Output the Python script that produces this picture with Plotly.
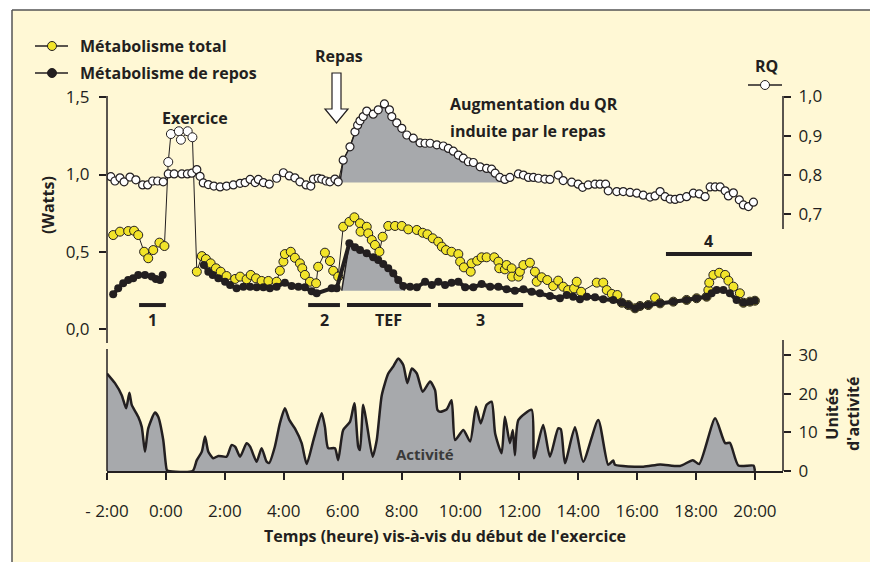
import plotly.graph_objects as go

# ---------------- data ----------------
rq_time = [-1.87, -1.73, -1.56, -1.42, -1.22, -1.02, -0.79, -0.62, -0.45, -0.28, -0.09,
           0.08, 0.28, 0.54, 0.73, 0.88, 1.05, 1.16, 1.27, 1.44, 1.63,
           1.84, 2.06, 2.29, 2.52, 2.69, 2.86, 3.03, 3.14, 3.31, 3.51,
           3.76, 3.99, 4.19, 4.38, 4.55, 4.76, 4.92, 5.01, 5.17, 5.29,
           5.44, 5.57, 5.74, 5.85,
           6.02, 6.25, 6.42, 6.51, 6.59, 6.70, 6.82, 7.04, 7.21, 7.42,
           7.59, 7.67, 7.84, 8.01, 8.18, 8.40, 8.63, 8.80, 8.97, 9.20,
           9.42, 9.59, 9.76, 9.93, 10.10, 10.27, 10.44, 10.67, 10.89, 11.06,
           11.18, 11.34, 11.51, 11.68, 11.97, 12.14, 12.31, 12.48, 12.65, 12.87,
           13.04, 13.32, 13.49, 13.78, 14.00, 14.15, 14.34, 14.57, 14.74, 14.93,
           15.02, 15.31, 15.53, 15.76, 15.99, 16.21, 16.44, 16.61, 16.78, 16.95,
           17.12, 17.29, 17.46, 17.68, 17.91, 18.11, 18.31, 18.48, 18.65, 18.82,
           18.99, 19.10, 19.27, 19.47, 19.61, 19.78, 19.95]
rq_value = [0.796, 0.785, 0.793, 0.783, 0.795, 0.788, 0.775, 0.775, 0.785, 0.785, 0.783,
            0.803, 0.803, 0.803, 0.803, 0.805, 0.814, 0.797, 0.780, 0.776, 0.772,
            0.770, 0.772, 0.775, 0.779, 0.781, 0.789, 0.781, 0.789, 0.781, 0.777,
            0.792, 0.806, 0.798, 0.793, 0.783, 0.775, 0.772, 0.790, 0.792, 0.790,
            0.785, 0.783, 0.790, 0.783,
            0.838, 0.872, 0.910, 0.927, 0.938, 0.949, 0.963, 0.955, 0.966, 0.981,
            0.966, 0.949, 0.933, 0.919, 0.902, 0.894, 0.882, 0.881, 0.881, 0.877,
            0.874, 0.868, 0.861, 0.851, 0.843, 0.834, 0.832, 0.821, 0.817, 0.815,
            0.805, 0.794, 0.789, 0.794, 0.803, 0.800, 0.794, 0.794, 0.792, 0.790,
            0.789, 0.800, 0.786, 0.782, 0.777, 0.769, 0.775, 0.777, 0.777, 0.777,
            0.760, 0.758, 0.758, 0.756, 0.754, 0.749, 0.744, 0.747, 0.758, 0.745,
            0.739, 0.738, 0.741, 0.745, 0.754, 0.752, 0.745, 0.770, 0.770, 0.770,
            0.760, 0.747, 0.755, 0.737, 0.724, 0.720, 0.731]

total_time = [-1.79, -1.56, -1.28, -1.08, -0.94, -0.74, -0.60, -0.43, -0.22, -0.05,
              0.08, 0.17, 0.44, 0.51, 0.74, 0.90,
              1.05, 1.22, 1.36, 1.52, 1.70, 1.86, 2.06, 2.35, 2.52, 2.74,
              2.88, 3.06, 3.25, 3.48, 3.76, 3.87, 3.99, 4.04, 4.24, 4.38,
              4.55, 4.63, 4.72, 4.89, 5.10, 5.17, 5.40, 5.57, 5.68, 5.85,
              6.02, 6.23, 6.40, 6.59, 6.61, 6.82, 6.87, 6.99, 7.10, 7.25,
              7.36, 7.55, 7.78, 8.01, 8.23, 8.52, 8.72, 8.88, 9.06, 9.25,
              9.37, 9.51, 9.70, 9.93, 9.99, 10.12, 10.35, 10.38, 10.57, 10.72,
              10.89, 11.15, 11.29, 11.32, 11.51, 11.57, 11.74, 11.75, 11.97, 12.02,
              12.14, 12.36, 12.53, 12.59, 12.76, 12.95, 13.15, 13.32, 13.49, 13.66,
              13.86, 13.95, 14.10, 14.63, 14.85, 14.97, 15.14, 15.33, 15.48, 15.70,
              15.93, 16.10, 16.38, 16.61, 16.78, 17.23, 17.68, 18.02, 18.36, 18.42,
              18.45, 18.59, 18.79, 18.99, 19.10, 19.27, 19.49, 19.61, 19.83, 20.00]
total_watts = [0.608, 0.630, 0.634, 0.636, 0.608, 0.500, 0.458, 0.511, 0.559, 0.537,
               1.081, 1.262, 1.280, 1.225, 1.280, 1.241,
               0.371, 0.472, 0.453, 0.425, 0.393, 0.371, 0.343, 0.324, 0.339, 0.322,
               0.350, 0.328, 0.311, 0.311, 0.306, 0.377, 0.436, 0.485, 0.500, 0.461,
               0.425, 0.393, 0.350, 0.306, 0.296, 0.403, 0.494, 0.440, 0.377, 0.339,
               0.662, 0.694, 0.723, 0.684, 0.630, 0.662, 0.619, 0.576, 0.544, 0.500,
               0.597, 0.667, 0.667, 0.667, 0.645, 0.641, 0.623, 0.613, 0.587, 0.565,
               0.533, 0.511, 0.500, 0.485, 0.436, 0.399, 0.371, 0.425, 0.442, 0.464,
               0.464, 0.464, 0.436, 0.393, 0.386, 0.414, 0.393, 0.339, 0.339, 0.371,
               0.414, 0.429, 0.371, 0.306, 0.335, 0.317, 0.278, 0.313, 0.274, 0.252,
               0.263, 0.306, 0.241, 0.300, 0.300, 0.252, 0.227, 0.220, 0.170, 0.155,
               0.134, 0.149, 0.155, 0.203, 0.166, 0.177, 0.188, 0.199, 0.209, 0.252,
               0.300, 0.350, 0.364, 0.350, 0.313, 0.274, 0.231, 0.170, 0.177, 0.183]

rest_time = [-1.79, -1.62, -1.45, -1.28, -1.11, -0.94, -0.71, -0.48, -0.34, -0.20, -0.11,
             1.29, 1.44, 1.59, 1.78, 2.01, 2.18, 2.40, 2.63, 2.86, 3.08,
             3.31, 3.53, 3.76, 4.04, 4.27, 4.50, 4.72, 4.95, 5.12, 5.63, 5.80,
             6.23, 6.42, 6.59, 6.82, 7.04, 7.21, 7.38, 7.55, 7.72, 7.89,
             8.06, 8.29, 8.52, 8.80, 9.03, 9.25, 9.48, 9.70, 9.93, 10.16,
             10.44, 10.72, 11.01, 11.29, 11.57, 11.85, 12.14, 12.42, 12.70, 13.04,
             13.38, 13.61, 13.83, 14.06, 14.29, 14.57, 14.85, 15.19, 15.48, 15.70,
             15.93, 16.10, 16.38, 16.78, 17.23, 17.68, 18.02, 18.36, 18.53, 18.70,
             18.93, 19.15, 19.38, 19.61, 19.83, 20.00]
rest_watts = [0.225, 0.263, 0.296, 0.317, 0.328, 0.350, 0.350, 0.339, 0.324, 0.317, 0.350,
              0.414, 0.371, 0.350, 0.328, 0.306, 0.285, 0.263, 0.274, 0.274, 0.270,
              0.270, 0.263, 0.274, 0.300, 0.278, 0.274, 0.270, 0.245, 0.231, 0.263, 0.263,
              0.555, 0.529, 0.511, 0.490, 0.464, 0.447, 0.421, 0.393, 0.361, 0.317,
              0.278, 0.274, 0.270, 0.306, 0.285, 0.306, 0.285, 0.300, 0.306, 0.270,
              0.270, 0.291, 0.274, 0.274, 0.257, 0.248, 0.257, 0.241, 0.231, 0.214,
              0.199, 0.220, 0.209, 0.192, 0.209, 0.205, 0.192, 0.188, 0.170, 0.155,
              0.134, 0.149, 0.155, 0.166, 0.177, 0.188, 0.199, 0.209, 0.231, 0.252,
              0.252, 0.231, 0.188, 0.170, 0.177, 0.183]

act_time = [-2.00, -1.73, -1.50, -1.35, -1.24, -1.16, -0.94, -0.82, -0.71, -0.60,
            -0.37, -0.26, -0.09, 0.03, 0.08, 0.91, 1.05, 1.22, 1.33, 1.44,
            1.61, 1.78, 2.06, 2.23, 2.35, 2.52, 2.74, 2.86, 3.08, 3.25,
            3.42, 3.51, 3.70, 3.87, 4.04, 4.19, 4.38, 4.61, 4.78, 5.01,
            5.29, 5.40, 5.51, 5.74, 5.85, 6.02, 6.25, 6.40, 6.53, 6.59,
            6.70, 6.82, 7.02, 7.16, 7.33, 7.55, 7.72, 7.89, 8.06, 8.20,
            8.35, 8.52, 8.72, 8.97, 9.14, 9.22, 9.31, 9.53, 9.70, 9.82,
            10.10, 10.33, 10.53, 10.69, 10.89, 11.06, 11.18, 11.40, 11.51, 11.68,
            11.78, 11.85, 11.97, 12.42, 12.50, 12.81, 13.04, 13.32, 13.41, 13.55,
            13.89, 14.17, 14.68, 15.02, 15.19, 15.25, 16.21, 16.78, 17.46, 17.89,
            18.11, 18.65, 18.99, 19.15, 19.44, 19.95, 20.00]
act_units = [25.2, 22.7, 19.6, 16.2, 20.2, 17.1, 14.0, 11.4, 5.0, 11.0,
             15.1, 14.0, 8.0, 0.3, 0, 0, 2.8, 5.0, 8.9, 5.0,
             3.3, 3.9, 3.7, 6.7, 6.3, 3.7, 7.2, 6.3, 2.4, 5.9,
             2.4, 2.1, 6.3, 12.3, 16.2, 13.2, 11.0, 7.2, 1.8, 8.0,
             14.9, 11.4, 5.9, 5.9, 2.8, 10.6, 12.7, 17.5, 6.3, 5.4,
             17.1, 12.3, 3.7, 8.0, 19.6, 25.2, 27.0, 29.1, 27.4, 22.7,
             26.5, 25.2, 20.5, 23.1, 20.9, 15.8, 15.3, 15.9, 18.3, 8.0,
             10.6, 7.6, 16.6, 12.3, 17.1, 17.9, 9.7, 4.6, 14.0, 7.2,
             10.6, 4.1, 13.2, 15.8, 3.3, 11.9, 3.7, 11.0, 10.8, 2.0,
             11.3, 2.4, 13.2, 1.6, 2.7, 1.6, 1.1, 1.7, 1.3, 2.8,
             1.8, 13.6, 7.2, 7.3, 1.4, 1.4, 0]

x_tickvals = [-2, 0, 2, 4, 6, 8, 10, 12, 14, 16, 18, 20]
x_ticktext = ["- 2:00", "0:00", "2:00", "4:00", "6:00", "8:00", "10:00",
              "12:00", "14:00", "16:00", "18:00", "20:00"]
watts_ticks = [0.0, 0.5, 1.0, 1.5]
watts_ticktext = ["0,0", "0,5", "1,0", "1,5"]
rq_ticks = [0.7, 0.8, 0.9, 1.0]
rq_ticktext = ["0,7", "0,8", "0,9", "1,0"]
act_ticks = [0, 10, 20, 30]
act_ticktext = ["0", "10", "20", "30"]

exercise_start, exercise_end = 0.0, 1.0
meal_rq_start, meal_rq_end, meal_rq_base = 5.91, 11.62, 0.781
tef_start, tef_end, tef_base = 5.97, 8.10, 0.248

period_labels = ["1", "2", "TEF", "3", "4"]
period_start = [-0.91, 4.83, 6.15, 9.24, 16.98]
period_end = [0.0, 5.91, 9.0, 12.13, 19.9]
period_level = [0.155, 0.155, 0.155, 0.155, 0.485]
period_label_level = [0.058, 0.058, 0.058, 0.058, 0.57]

# ---------------- style / geometry ----------------
# screen geometry (page body has an 8 px margin)
OFF = 8
SCR_W, SCR_H = 878, 562
PLOT_L, PLOT_R, PLOT_T, PLOT_B = 107, 783, 96, 471
W, H = SCR_W - OFF, SCR_H - OFF
ML, MT = PLOT_L - OFF, PLOT_T - OFF
MR, MB = W - (PLOT_R - OFF), H - (PLOT_B - OFF)
PW, PH = PLOT_R - PLOT_L, PLOT_B - PLOT_T

INK = "#231F20"
GRAY = "#A7A9AC"
YEL = "#F2E42A"
PAPER = "#FFF8D5"
FONT = "Open Sans"


def px(X):
    return (X - PLOT_L) / PW


def py(Y):
    return (PLOT_B - Y) / PH


HOURS_PER_PX = 1 / 29.45
x_range = [-2.0, -2.0 + PW * HOURS_PER_PX]
watts_range = [-(PLOT_B - 329) / 154.5, (329 - PLOT_T) / 154.5]
rq_range = [1.0 - (PLOT_B - 96.5) / 393.0, 1.0 + (96.5 - PLOT_T) / 393.0]
act_range = [0, PH / 3.87]

fig = go.Figure()

# RQ meal-induced area
mx = [meal_rq_start] + [t for t in rq_time if meal_rq_start < t < meal_rq_end] + [meal_rq_end]
my = [meal_rq_base] + [v for t, v in zip(rq_time, rq_value) if meal_rq_start < t < meal_rq_end] + [meal_rq_base]
fig.add_trace(go.Scatter(x=mx, y=my, yaxis="y2", mode="lines", fill="toself",
                         fillcolor=GRAY, line=dict(color=INK, width=1.5), hoverinfo="skip"))

# TEF area
tx = [tef_start] + [t for t in rest_time if tef_start < t < tef_end] + [tef_end]
ty = [tef_base] + [v for t, v in zip(rest_time, rest_watts) if tef_start < t < tef_end] + [tef_base]
fig.add_trace(go.Scatter(x=tx, y=ty, yaxis="y", mode="lines", fill="toself",
                         fillcolor=GRAY, line=dict(color=INK, width=1.5), hoverinfo="skip"))

# total metabolism (white markers during exercise)
tot_colors = ["white" if exercise_start < t < exercise_end else YEL for t in total_time]
fig.add_trace(go.Scatter(x=total_time, y=total_watts, yaxis="y", mode="lines+markers",
                         line=dict(color=INK, width=1),
                         marker=dict(size=9, color=tot_colors, line=dict(color=INK, width=1))))

# resting metabolism (gap during exercise)
rx, ry = [], []
for i, (t, v) in enumerate(zip(rest_time, rest_watts)):
    if i > 0 and rest_time[i - 1] < exercise_start and t > exercise_end:
        rx.append(None)
        ry.append(None)
    rx.append(t)
    ry.append(v)
fig.add_trace(go.Scatter(x=rx, y=ry, yaxis="y", mode="lines+markers",
                         line=dict(color=INK, width=4),
                         marker=dict(size=8, color=INK, line=dict(color=INK, width=0))))

# period bars
for s, e, lv in zip(period_start, period_end, period_level):
    fig.add_trace(go.Scatter(x=[s, e], y=[lv, lv], yaxis="y", mode="lines",
                             line=dict(color=INK, width=4), hoverinfo="skip"))

# RQ
fig.add_trace(go.Scatter(x=rq_time, y=rq_value, yaxis="y2", mode="lines+markers",
                         line=dict(color=INK, width=1),
                         marker=dict(size=8, color="white", line=dict(color=INK, width=1.2))))

# activity
fig.add_trace(go.Scatter(x=act_time, y=act_units, yaxis="y3", mode="lines",
                         fill="tozeroy", fillcolor=GRAY,
                         line=dict(color=INK, width=2.5, shape="spline", smoothing=0.6)))

tick_font = dict(family=FONT, size=17, color=INK)

fig.update_layout(
    width=W, height=H,
    margin=dict(l=ML, r=MR, t=MT, b=MB, pad=0),
    paper_bgcolor="white", plot_bgcolor="white",
    showlegend=False,
    font=dict(family=FONT, color=INK),
    xaxis=dict(range=x_range, tickvals=x_tickvals, ticktext=x_ticktext, ticks="outside",
               ticklen=7, tickwidth=1.5, tickcolor=INK, showline=True, linecolor=INK,
               linewidth=1.5, showgrid=False, zeroline=False, tickfont=tick_font,
               ticklabelstandoff=17),
    yaxis=dict(range=watts_range, tickvals=watts_ticks, ticktext=watts_ticktext,
               ticks="outside", ticklen=7, tickwidth=1.5, tickcolor=INK, showline=False,
               showgrid=False, zeroline=False, tickfont=tick_font, ticklabelstandoff=6),
    yaxis2=dict(range=rq_range, tickvals=rq_ticks, ticktext=rq_ticktext, overlaying="y",
                side="right", anchor="x", ticks="outside", ticklen=7, tickwidth=1.5,
                tickcolor=INK, showline=False, showgrid=False, zeroline=False,
                tickfont=tick_font, ticklabelstandoff=4),
    yaxis3=dict(range=act_range, tickvals=act_ticks, ticktext=act_ticktext, overlaying="y",
                side="right", anchor="x", ticks="outside", ticklen=7, tickwidth=1.5,
                tickcolor=INK, showline=False, showgrid=False, zeroline=False,
                tickfont=tick_font, ticklabelstandoff=4),
)

shapes = []
# yellow panel + border
shapes.append(dict(type="rect", xref="paper", yref="paper", x0=px(12), x1=px(SCR_W + 2),
                   y0=py(10), y1=py(SCR_H + 2),
                   fillcolor=PAPER, line=dict(width=0), layer="below"))
shapes.append(dict(type="line", xref="paper", yref="paper", x0=px(12), x1=px(SCR_W + 2),
                   y0=py(10), y1=py(10), line=dict(color="#555555", width=1.5)))
shapes.append(dict(type="line", xref="paper", yref="paper", x0=px(12), x1=px(12), y0=py(10),
                   y1=py(SCR_H + 2), line=dict(color="#555555", width=1.5)))
# axis lines
for (x0, y0, y1) in [(PLOT_L, PLOT_T, 343), (PLOT_L, 349, PLOT_B),
                     (PLOT_R, PLOT_T, 229), (PLOT_R, 340, PLOT_B)]:
    shapes.append(dict(type="line", xref="paper", yref="paper", x0=px(x0), x1=px(x0),
                       y0=py(y0), y1=py(y1), line=dict(color=INK, width=1.5)))
# meal arrow
path = (f"M {px(332)},{py(73)} L {px(341)},{py(73)} L {px(341)},{py(109)} L {px(348)},{py(109)} "
        f"L {px(336.5)},{py(123)} L {px(325)},{py(109)} L {px(332)},{py(109)} Z")
shapes.append(dict(type="path", xref="paper", yref="paper", path=path, fillcolor="white",
                   line=dict(color=INK, width=1.2)))
# legend symbols
for (yy, col) in [(46, YEL), (73, INK)]:
    shapes.append(dict(type="line", xref="paper", yref="paper", x0=px(35), x1=px(68),
                       y0=py(yy), y1=py(yy), line=dict(color=INK, width=1.3)))
    shapes.append(dict(type="circle", xref="paper", yref="paper", x0=px(47.5), x1=px(56.5),
                       y0=py(yy - 4.5), y1=py(yy + 4.5), fillcolor=col, line=dict(color=INK, width=1)))
shapes.append(dict(type="line", xref="paper", yref="paper", x0=px(748), x1=px(782),
                   y0=py(85), y1=py(85), line=dict(color=INK, width=1.3)))
shapes.append(dict(type="circle", xref="paper", yref="paper", x0=px(760.5), x1=px(769.5),
                   y0=py(80.5), y1=py(89.5), fillcolor="white", line=dict(color=INK, width=1)))
fig.update_layout(shapes=shapes)

ann = []


def label(text, X, Y, size=16, anchor="center", angle=0, color=INK):
    ann.append(dict(text=text, xref="paper", yref="paper", x=px(X), y=py(Y), xanchor=anchor,
                    yanchor="middle", showarrow=False, textangle=angle,
                    font=dict(family=FONT, size=size, color=color)))


label("<b>Métabolisme total</b>", 78, 46, anchor="left")
label("<b>Métabolisme de repos</b>", 78, 73, anchor="left")
label("<b>Repas</b>", 339, 56)
label("<b>RQ</b>", 766, 66)
label("<b>Exercice</b>", 194.5, 118)
label("<b>Augmentation du QR</b>", 448, 104, anchor="left")
label("<b>induite par le repas</b>", 448, 131, anchor="left")
label("<b>Activité</b>", 425, 454, size=15, color="#3a3a3a")
label("<b>(Watts)</b>", 48, 205, angle=-90)
label("<b>Unités<br>d'activité</b>", 842, 414, angle=-90)
label("<b>Temps (heure) vis-à-vis du début de l'exercice</b>", 445, 536)

for lab, s, e, lv in zip(period_labels, period_start, period_end, period_label_level):
    ann.append(dict(text=f"<b>{lab}</b>", xref="x", yref="y", x=(s + e) / 2, y=lv,
                    showarrow=False, xanchor="center", yanchor="middle",
                    font=dict(family=FONT, size=16, color=INK)))

fig.update_layout(annotations=ann)

fig.write_html("out.html")
